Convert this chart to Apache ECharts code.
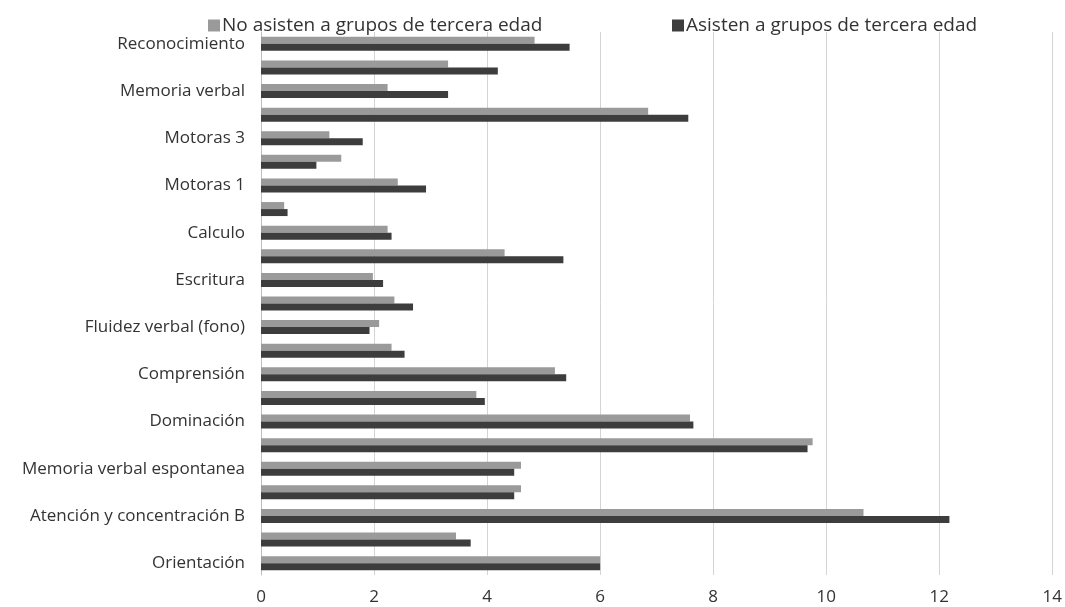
<!DOCTYPE html>
<html>
<head>
<meta charset="utf-8">
<script src="https://cdn.jsdelivr.net/npm/echarts@6/dist/echarts.min.js"></script>
<style>
html,body{margin:0;padding:0;background:#fff;}
#chart{width:1065px;height:607px;}
</style>
</head>
<body>
<div id="chart"></div>
<script>
// Categories, bottom to top (every other label is hidden in the original)
const categories = [
  'Orientación',
  'Atención y concentración A',
  'Atención y concentración B',
  'Codificación',
  'Memoria verbal espontanea',
  'Proceso visoespacial',
  'Dominación',
  'Repetición',
  'Comprensión',
  'Fluidez verbal (semántica)',
  'Fluidez verbal (fono)',
  'Lectura',
  'Escritura',
  'Semejanzas',
  'Calculo',
  'Secuenciación',
  'Motoras 1',
  'Motoras 2',
  'Motoras 3',
  'Evocación visoespacial',
  'Memoria verbal',
  'Memoria por claves',
  'Reconocimiento'
];
const seriesNames = ['No asisten a grupos de tercera edad', 'Asisten a grupos de tercera edad'];
const noAsisten = [6.0, 3.45, 10.66, 4.60, 4.60, 9.76, 7.59, 3.81, 5.20, 2.31, 2.09, 2.36, 1.98, 4.31, 2.24, 0.41, 2.42, 1.42, 1.21, 6.85, 2.24, 3.31, 4.84];
const asisten   = [6.0, 3.71, 12.18, 4.48, 4.48, 9.67, 7.65, 3.96, 5.40, 2.54, 1.92, 2.69, 2.16, 5.35, 2.31, 0.47, 2.92, 0.98, 1.80, 7.56, 3.31, 4.19, 5.46];
const xTicks = [0, 2, 4, 6, 8, 10, 12, 14];

const chart = echarts.init(document.getElementById('chart'));
const font = 'Open Sans';
const textColor = '#333';
chart.setOption({
  animation: false,
  backgroundColor: '#fff',
  textStyle: { fontFamily: font },
  legend: [
    {
      data: [seriesNames[0]], left: 203, top: 11, itemWidth: 12, itemHeight: 12, itemGap: 0,
      icon: 'rect', textStyle: { fontFamily: font, fontSize: 19, color: textColor, padding: [0, 0, 0, -3] }
    },
    {
      data: [seriesNames[1]], left: 667, top: 11, itemWidth: 12, itemHeight: 12, itemGap: 0,
      icon: 'rect', textStyle: { fontFamily: font, fontSize: 19, color: textColor, padding: [0, 0, 0, -3] }
    }
  ],
  grid: { left: 261, right: 11, top: 32, bottom: 32, containLabel: false },
  xAxis: {
    type: 'value', min: xTicks[0], max: xTicks[xTicks.length - 1], interval: 2,
    axisLine: { show: false }, axisTick: { show: false },
    splitLine: { lineStyle: { color: '#d4d4d4', width: 1 } },
    axisLabel: { fontFamily: font, fontSize: 17, color: textColor, margin: 14 }
  },
  yAxis: {
    type: 'category', data: categories,
    axisLine: { lineStyle: { color: '#bfbfbf' } }, axisTick: { show: false },
    axisLabel: { interval: 1, fontFamily: font, fontSize: 17, color: textColor, margin: 16 }
  },
  series: [
    {
      name: seriesNames[0], type: 'bar', data: noAsisten, barWidth: 7, barGap: '0%',
      itemStyle: { color: '#9a9a9a' }
    },
    {
      name: seriesNames[1], type: 'bar', data: asisten, barWidth: 7, barGap: '0%',
      itemStyle: { color: '#3d3d3d' }
    }
  ]
});
</script>
</body>
</html>
